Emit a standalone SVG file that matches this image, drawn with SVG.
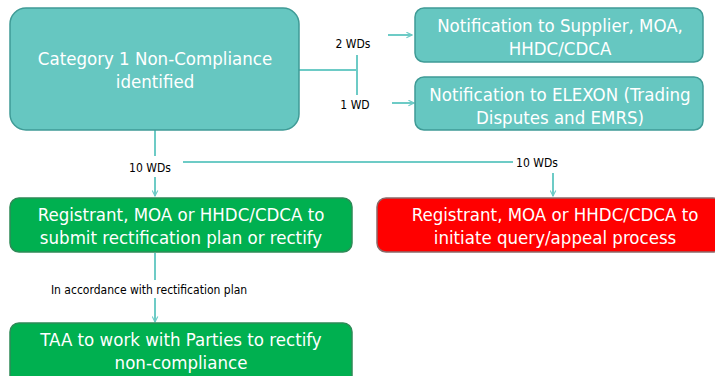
<svg xmlns="http://www.w3.org/2000/svg" width="715" height="376" viewBox="0 0 715 376">
<defs>
<marker id="ah" viewBox="0 0 10 10" refX="9" refY="5" markerWidth="7" markerHeight="7" orient="auto" markerUnits="userSpaceOnUse">
<path d="M1,1 L9,5 L1,9" fill="none" stroke="#6DCBC6" stroke-width="1.6"/>
</marker>
</defs>
<style>
.teal{fill:#66C7C1;stroke:#3F9B96;stroke-width:1.5}
.green{fill:#00B050;stroke:#2E8B57;stroke-width:1.5}
.red{fill:#FF0000;stroke:#8A6A6A;stroke-width:1.5}
.t{font-family:"DejaVu Sans Condensed","DejaVu Sans",sans-serif;font-size:18.5px;fill:#fff;text-anchor:middle}
.lb{font-family:"DejaVu Sans Condensed","DejaVu Sans",sans-serif;font-size:12px;fill:#000;text-anchor:middle}
.c{fill:none;stroke:#6DCBC6;stroke-width:2}
</style>
<g id="connectors">
<polyline class="c" points="299,70 357,70"/>
<line class="c" x1="357" y1="55" x2="357" y2="95"/>
<line class="c" x1="388" y1="35" x2="412" y2="35" marker-end="url(#ah)"/>
<line class="c" x1="392" y1="103" x2="414" y2="103" marker-end="url(#ah)"/>
<line class="c" x1="155" y1="130" x2="155" y2="156"/>
<line class="c" x1="183" y1="162" x2="513" y2="162"/>
<line class="c" x1="155" y1="177" x2="155" y2="196" marker-end="url(#ah)"/>
<line class="c" x1="553" y1="173" x2="553" y2="196" marker-end="url(#ah)"/>
<line class="c" x1="155" y1="253" x2="155" y2="280"/>
<line class="c" x1="155" y1="298" x2="155" y2="322" marker-end="url(#ah)"/>
<text class="lb" x="353" y="48">2 WDs</text>
<text class="lb" x="355" y="109">1 WD</text>
<text class="lb" x="150" y="172">10 WDs</text>
<text class="lb" x="537" y="167">10 WDs</text>
<text class="lb" x="149" y="294">In accordance with rectification plan</text>
</g>
<g id="main">
<rect class="teal" x="10" y="8" width="289" height="122" rx="16"/>
<text class="t" x="155" y="65">Category 1 Non-Compliance</text>
<text class="t" x="155" y="88">identified</text>
</g>
<g id="notify-supplier">
<rect class="teal" x="415" y="8" width="288" height="54" rx="9"/>
<text class="t" x="560" y="32">Notification to Supplier, MOA,</text>
<text class="t" x="560" y="55">HHDC/CDCA</text>
</g>
<g id="notify-elexon">
<rect class="teal" x="415" y="77" width="288" height="53" rx="9"/>
<text class="t" x="560" y="101">Notification to ELEXON (Trading</text>
<text class="t" x="560" y="124">Disputes and EMRS)</text>
</g>
<g id="rectify-plan">
<rect class="green" x="10" y="198" width="342" height="54" rx="9"/>
<text class="t" x="181" y="221">Registrant, MOA or HHDC/CDCA to</text>
<text class="t" x="181" y="244">submit rectification plan or rectify</text>
</g>
<g id="appeal">
<rect class="red" x="377" y="198" width="345" height="54" rx="9"/>
<text class="t" x="555" y="221">Registrant, MOA or HHDC/CDCA to</text>
<text class="t" x="555" y="244">initiate query/appeal process</text>
</g>
<g id="taa">
<rect class="green" x="10" y="323" width="342" height="62" rx="9"/>
<text class="t" x="181" y="346">TAA to work with Parties to rectify</text>
<text class="t" x="181" y="369">non-compliance</text>
</g>
</svg>
